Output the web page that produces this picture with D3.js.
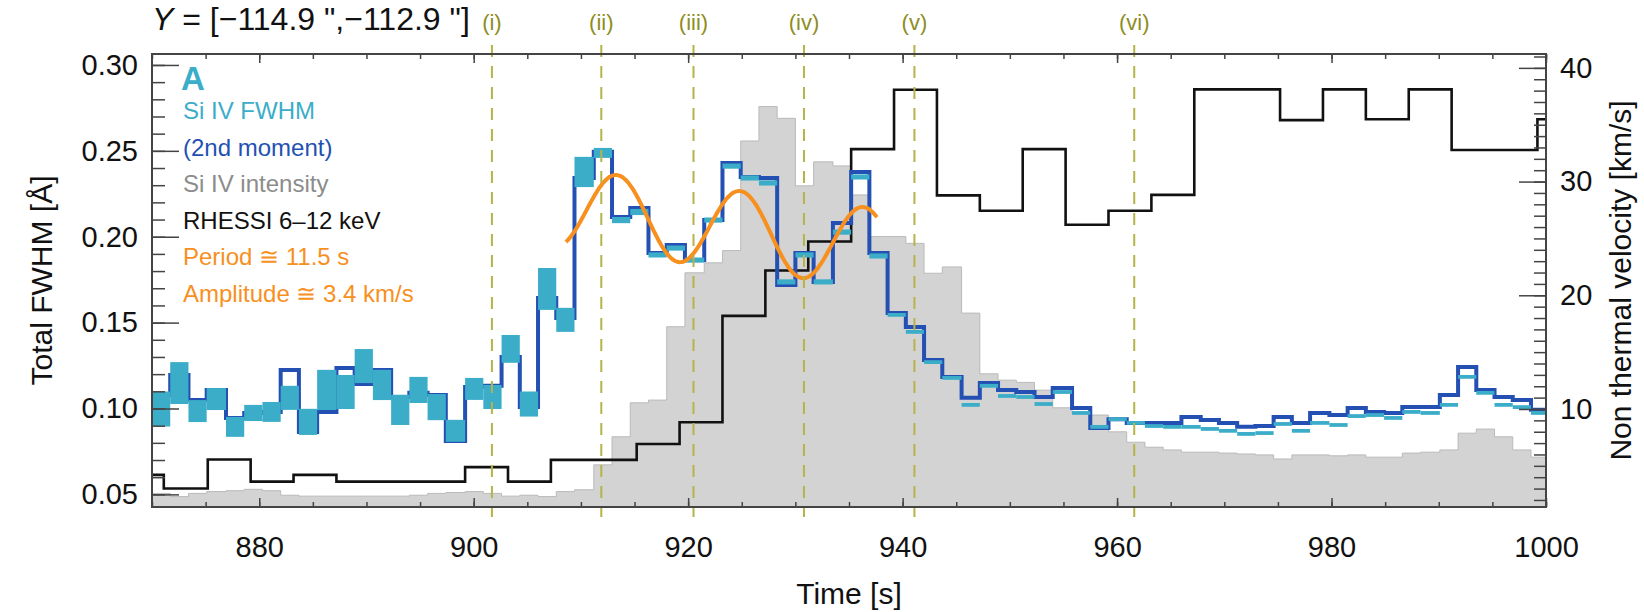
<!DOCTYPE html>
<html>
<head>
<meta charset="utf-8">
<script src="https://cdn.jsdelivr.net/npm/d3@7"></script>
<style>
  body { margin: 0; background: #fff; }
  svg { display: block; font-family: "Liberation Sans", Arial, Helvetica, sans-serif; }
</style>
</head>
<body>
<svg class="svg-canvas" width="1644" height="612"></svg>
<script>
//Start time [s] of every IRIS exposure
var binStart = [870.0, 871.7, 873.4, 875.1, 876.9, 878.6, 880.3, 882.0, 883.7, 885.4,
    887.2, 888.9, 890.6, 892.3, 894.0, 895.7, 897.4, 899.2, 900.9, 902.6,
    904.3, 906.0, 907.7, 909.4, 911.2, 912.9, 914.6, 916.3, 918.0, 919.7,
    921.5, 923.2, 924.9, 926.6, 928.3, 930.0, 931.7, 933.5, 935.2, 936.9,
    938.6, 940.3, 942.0, 943.7, 945.5, 947.2, 948.9, 950.6, 952.3, 954.0,
    955.8, 957.5, 959.2, 960.9, 962.6, 964.3, 966.0, 967.8, 969.5, 971.2,
    972.9, 974.6, 976.3, 978.0, 979.8, 981.5, 983.2, 984.9, 986.6, 988.3,
    990.1, 991.8, 993.5, 995.2, 996.9, 998.6];
var binEnd = 1000.3;

//Si IV FWHM from the line fit [A] and its uncertainty
var fwhmFit = [0.0997, 0.1148, 0.0985, 0.1055, 0.0893, 0.0974, 0.0980, 0.1062, 0.0922, 0.1108,
    0.1096, 0.1247, 0.1137, 0.0992, 0.1108, 0.1008, 0.0870, 0.1114, 0.1067, 0.1347,
    0.1026, 0.1696, 0.1516, 0.2377, 0.2488, 0.2097, 0.2144, 0.1894, 0.1934, 0.1864,
    0.2097, 0.2411, 0.2342, 0.2313, 0.1737, 0.1894, 0.1737, 0.2027, 0.2348, 0.1888,
    0.1545, 0.1446, 0.1270, 0.1178, 0.1021, 0.1132, 0.1073, 0.1067, 0.1026, 0.1096,
    0.0974, 0.0893, 0.0938, 0.0916, 0.0898, 0.0893, 0.0893, 0.0881, 0.0870, 0.0852,
    0.0857, 0.0910, 0.0870, 0.0916, 0.0904, 0.0956, 0.0962, 0.0945, 0.0980, 0.0974,
    0.1021, 0.1184, 0.1091, 0.1021, 0.1008, 0.0974];
var fwhmErr = [0.0102, 0.0122, 0.0064, 0.0064, 0.0058, 0.0047, 0.0058, 0.0070, 0.0076, 0.0117,
    0.0099, 0.0099, 0.0088, 0.0088, 0.0076, 0.0076, 0.0064, 0.0064, 0.0070, 0.0081,
    0.0073, 0.0122, 0.0070, 0.0088, 0.0029, 0.0018, 0.0018, 0.0015, 0.0015, 0.0015,
    0.0015, 0.0015, 0.0015, 0.0015, 0.0015, 0.0015, 0.0015, 0.0015, 0.0015, 0.0015,
    0.0011, 0.0011, 0.0011, 0.0011, 0.0011, 0.0011, 0.0011, 0.0011, 0.0011, 0.0011,
    0.0011, 0.0011, 0.0011, 0.0011, 0.0011, 0.0011, 0.0011, 0.0011, 0.0011, 0.0011,
    0.0011, 0.0011, 0.0011, 0.0011, 0.0011, 0.0011, 0.0011, 0.0011, 0.0011, 0.0011,
    0.0011, 0.0011, 0.0011, 0.0011, 0.0011, 0.0011];

//Si IV FWHM from the 2nd moment [A]
var fwhmMoment = [0.1078, 0.1195, 0.1049, 0.1108, 0.0945, 0.0974, 0.0980, 0.1224, 0.0863, 0.0980,
    0.1236, 0.1143, 0.1224, 0.1067, 0.1091, 0.1078, 0.0811, 0.1125, 0.1132, 0.1300,
    0.1008, 0.1643, 0.1527, 0.2342, 0.2494, 0.2115, 0.2167, 0.1905, 0.1952, 0.1864,
    0.2097, 0.2429, 0.2348, 0.2342, 0.1719, 0.1905, 0.1737, 0.2080, 0.2377, 0.1905,
    0.1556, 0.1475, 0.1283, 0.1184, 0.1062, 0.1148, 0.1108, 0.1096, 0.1067, 0.1119,
    0.1003, 0.0886, 0.0938, 0.0916, 0.0916, 0.0916, 0.0951, 0.0933, 0.0916, 0.0893,
    0.0898, 0.0951, 0.0916, 0.0974, 0.0962, 0.1003, 0.0980, 0.0974, 0.1008, 0.1008,
    0.1078, 0.1242, 0.1108, 0.1067, 0.1049, 0.0992];

//Si IV intensity, normalised
var intensity = [0.030, 0.023, 0.030, 0.034, 0.036, 0.039, 0.036, 0.026, 0.024, 0.024,
    0.024, 0.024, 0.024, 0.024, 0.026, 0.030, 0.032, 0.034, 0.030, 0.024,
    0.026, 0.023, 0.034, 0.038, 0.093, 0.155, 0.230, 0.236, 0.398, 0.517,
    0.539, 0.566, 0.808, 0.884, 0.858, 0.709, 0.762, 0.753, 0.689, 0.597,
    0.597, 0.582, 0.516, 0.530, 0.428, 0.294, 0.280, 0.275, 0.258, 0.219,
    0.208, 0.203, 0.166, 0.143, 0.132, 0.126, 0.121, 0.121, 0.119, 0.117,
    0.115, 0.106, 0.115, 0.115, 0.113, 0.115, 0.110, 0.110, 0.119, 0.121,
    0.126, 0.163, 0.172, 0.155, 0.126, 0.110];

//RHESSI 6-12 keV, 4 s bins, normalised
var rhessiStart = [867.1, 871.1, 875.2, 879.2, 883.2, 887.2, 891.2, 895.2, 899.2, 903.2,
    907.2, 911.2, 915.2, 919.2, 923.2, 927.2, 931.2, 935.2, 939.2, 943.2,
    947.2, 951.2, 955.2, 959.2, 963.2, 967.2, 971.2, 975.2, 979.2, 983.2,
    987.2, 991.2, 995.2, 999.2];
var rhessiEnd = 1003.2;
var rhessiRate = [0.071, 0.041, 0.105, 0.056, 0.071, 0.056, 0.056, 0.056, 0.088, 0.056,
    0.104, 0.104, 0.139, 0.187, 0.422, 0.522, 0.586, 0.790, 0.921, 0.688,
    0.654, 0.790, 0.623, 0.654, 0.689, 0.922, 0.922, 0.854, 0.922, 0.856,
    0.922, 0.788, 0.788, 0.856];

//Times of the marked instants
var markerTimes = [901.7, 911.9, 920.5, 930.8, 941.1, 961.6];
var markerLabels = ["(i)", "(ii)", "(iii)", "(iv)", "(v)", "(vi)"];

//Sine fit of the oscillation
var fitRange = [908.6, 937.6];
var fitPeriod = 11.5;
var fitAmplitude = 0.0230;
var fitPhase = 910.5;
var fitMean = 0.2051;
var fitSlope = -0.00081;
var fitRefTime = 923;

//Axis ticks
var xTicks = [880, 900, 920, 940, 960, 980, 1000];
var yLeftTicks = [0.05, 0.10, 0.15, 0.20, 0.25, 0.30];
var yRightTicks = [10, 20, 30, 40];

(function(){
    //Plot frame
    var left = 152, right = 1546, top = 54, bottom = 507;

    var svg = d3.select('.svg-canvas');

    //Scales
    var x = d3.scaleLinear().domain([870, 1000]).range([left, right]);
    var yL = d3.scaleLinear().domain([0.04265, 0.30638]).range([bottom, top]);
    var yR = d3.scaleLinear().domain([1.38, 41.22]).range([bottom, top]);
    var yN = d3.scaleLinear().domain([0, 1]).range([bottom, top]);

    //Colours
    var cCyan = "#3badc9", cBlue = "#2450b3", cGray = "#d3d3d3",
        cOrange = "#f7901e", cOlive = "#b5b44a", cOliveText = "#8e8d22";

    svg.append("clipPath").attr("id", "plotClip")
        .append("rect")
        .attr("x", left).attr("y", top)
        .attr("width", right - left).attr("height", bottom - top);

    var plot = svg.append("g").attr("clip-path", "url(#plotClip)");

    //Step data helper, last value repeated at the bin end
    function steps(starts, values, end){
        var pts = starts.map(function(t, i){ return [t, values[i]]; });
        pts.push([end, values[values.length - 1]]);
        return pts;
    }

    //Gray intensity histogram
    plot.append("path")
        .datum(steps(binStart, intensity, binEnd))
        .attr("fill", cGray)
        .attr("stroke", "#bababa")
        .attr("stroke-width", 1)
        .attr("d", d3.area().curve(d3.curveStepAfter)
            .x(function(d){ return x(d[0]); })
            .y0(bottom)
            .y1(function(d){ return yN(d[1]); }));

    //RHESSI light curve
    plot.append("path")
        .datum(steps(rhessiStart, rhessiRate, rhessiEnd))
        .attr("fill", "none")
        .attr("stroke", "#111")
        .attr("stroke-width", 2.6)
        .attr("d", d3.line().curve(d3.curveStepAfter)
            .x(function(d){ return x(d[0]); })
            .y(function(d){ return yN(d[1]); }));

    //2nd moment FWHM
    plot.append("path")
        .datum(steps(binStart, fwhmMoment, binEnd))
        .attr("fill", "none")
        .attr("stroke", cBlue)
        .attr("stroke-width", 4)
        .attr("d", d3.line().curve(d3.curveStepAfter)
            .x(function(d){ return x(d[0]); })
            .y(function(d){ return yL(d[1]); }));

    //Fitted FWHM with its uncertainty
    plot.append("g").selectAll("rect")
        .data(binStart)
        .join("rect")
        .attr("fill", cCyan)
        .attr("x", function(t){ return x(t); })
        .attr("width", function(t, i){ return x(i < binStart.length - 1 ? binStart[i + 1] : binEnd) - x(t); })
        .attr("y", function(t, i){ return yL(fwhmFit[i] + fwhmErr[i]); })
        .attr("height", function(t, i){ return yL(fwhmFit[i] - fwhmErr[i]) - yL(fwhmFit[i] + fwhmErr[i]); });

    //Marked instants
    svg.append("g").selectAll("line")
        .data(markerTimes)
        .join("line")
        .attr("x1", x).attr("x2", x)
        .attr("y1", 45).attr("y2", 517)
        .attr("stroke", cOlive)
        .attr("stroke-width", 2)
        .attr("stroke-dasharray", "12,9");
    svg.append("g").selectAll("text")
        .data(markerTimes)
        .join("text")
        .attr("x", x).attr("y", 30)
        .attr("text-anchor", "middle")
        .attr("font-size", 22)
        .attr("fill", cOliveText)
        .text(function(d, i){ return markerLabels[i]; });

    //Sine fit
    var fitPts = d3.range(fitRange[0], fitRange[1] + 0.001, 0.1).map(function(t){
        return [t, fitMean + fitSlope * (t - fitRefTime) +
            fitAmplitude * Math.sin(2 * Math.PI * (t - fitPhase) / fitPeriod)];
    });
    plot.append("path")
        .datum(fitPts)
        .attr("fill", "none")
        .attr("stroke", cOrange)
        .attr("stroke-width", 4)
        .attr("d", d3.line().curve(d3.curveBasis)
            .x(function(d){ return x(d[0]); })
            .y(function(d){ return yL(d[1]); }));

    //Axes, ticks pointing into the frame
    function styleAxis(g){
        g.select(".domain").remove();
        g.selectAll(".tick line").attr("stroke", "#444").attr("stroke-width", 1.5);
        g.selectAll(".tick text").attr("fill", "#111").attr("font-size", 29)
            .attr("font-family", "Liberation Sans, Arial, sans-serif");
    }
    var minorX = d3.range(870, 1001, 5);
    var minorL = d3.range(5, 31).map(function(v){ return v / 100; });
    var minorR = d3.range(2, 42);

    svg.append("g").attr("transform", "translate(0," + bottom + ")")
        .call(d3.axisBottom(x).tickValues(minorX).tickFormat("").tickSize(-5).tickSizeOuter(0)).call(styleAxis);
    svg.append("g").attr("transform", "translate(0," + bottom + ")")
        .call(d3.axisBottom(x).tickValues(xTicks).tickFormat(d3.format("d")).tickSize(-9).tickPadding(29).tickSizeOuter(0)).call(styleAxis);
    svg.append("g").attr("transform", "translate(0," + top + ")")
        .call(d3.axisTop(x).tickValues(minorX).tickFormat("").tickSize(-5).tickSizeOuter(0)).call(styleAxis);
    svg.append("g").attr("transform", "translate(0," + top + ")")
        .call(d3.axisTop(x).tickValues(xTicks).tickFormat("").tickSize(-9).tickSizeOuter(0)).call(styleAxis);

    svg.append("g").attr("transform", "translate(" + left + ",0)")
        .call(d3.axisLeft(yL).tickValues(minorL).tickFormat("").tickSize(-13).tickSizeOuter(0)).call(styleAxis);
    svg.append("g").attr("transform", "translate(" + left + ",0)")
        .call(d3.axisLeft(yL).tickValues(yLeftTicks).tickFormat(d3.format(".2f")).tickSize(-27).tickPadding(14).tickSizeOuter(0)).call(styleAxis);

    svg.append("g").attr("transform", "translate(" + right + ",0)")
        .call(d3.axisRight(yR).tickValues(minorR).tickFormat("").tickSize(-12).tickSizeOuter(0)).call(styleAxis);
    svg.append("g").attr("transform", "translate(" + right + ",0)")
        .call(d3.axisRight(yR).tickValues(yRightTicks).tickFormat(d3.format("d")).tickSize(-27).tickPadding(14).tickSizeOuter(0)).call(styleAxis);

    //Frame
    svg.append("rect")
        .attr("x", left).attr("y", top)
        .attr("width", right - left).attr("height", bottom - top)
        .attr("fill", "none")
        .attr("stroke", "#444")
        .attr("stroke-width", 2);

    //Axis titles
    svg.append("text")
        .attr("x", (left + right) / 2).attr("y", 604)
        .attr("text-anchor", "middle").attr("font-size", 30).attr("fill", "#111")
        .text("Time [s]");
    svg.append("text")
        .attr("transform", "translate(52," + (top + bottom) / 2 + ") rotate(-90)")
        .attr("text-anchor", "middle").attr("font-size", 30).attr("fill", "#111")
        .text("Total FWHM [\u00c5]");
    svg.append("text")
        .attr("transform", "translate(1631," + (top + bottom) / 2 + ") rotate(-90)")
        .attr("text-anchor", "middle").attr("font-size", 30).attr("fill", "#111")
        .text("Non thermal velocity [km/s]");

    //Title
    var title = svg.append("text")
        .attr("x", left).attr("y", 30)
        .attr("font-size", 32).attr("fill", "#111");
    title.append("tspan").attr("font-style", "italic").text("Y");
    title.append("tspan").text(" = [\u2212114.9 \",\u2212112.9 \"]");

    //Legend
    svg.append("text")
        .attr("x", 181).attr("y", 90)
        .attr("font-size", 33).attr("font-weight", "bold").attr("fill", cCyan)
        .text("A");
    var legend = [
        {label: "Si IV FWHM", color: cCyan},
        {label: "(2nd moment)", color: cBlue},
        {label: "Si IV intensity", color: "#8c8c8c"},
        {label: "RHESSI 6\u201312 keV", color: "#111"},
        {label: "Period \u2245 11.5 s", color: cOrange},
        {label: "Amplitude \u2245 3.4 km/s", color: cOrange}
    ];
    svg.append("g").selectAll("text")
        .data(legend)
        .join("text")
        .attr("x", 183)
        .attr("y", function(d, i){ return 119 + i * 36.5; })
        .attr("font-size", 24)
        .attr("fill", function(d){ return d.color; })
        .text(function(d){ return d.label; });
})();
</script>
</body>
</html>
